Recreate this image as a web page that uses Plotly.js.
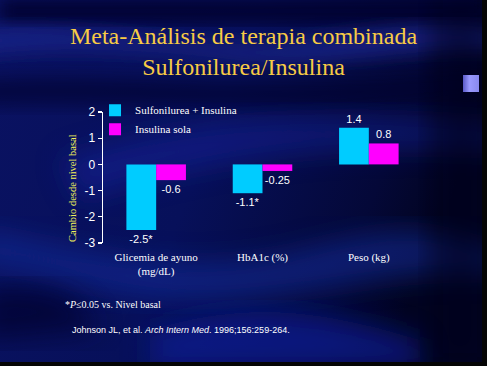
<!DOCTYPE html>
<html>
<head>
<meta charset="utf-8">
<script src="https://cdn.plot.ly/plotly-3.0.1.min.js"></script>
<style>
html,body{margin:0;padding:0;width:487px;height:366px;overflow:hidden;background:#050a4e;}
#bg{position:absolute;left:0;top:0;width:487px;height:366px;}
#chart{position:absolute;left:0;top:0;width:487px;height:366px;}
#rstrip{position:absolute;left:482px;top:0;width:5px;height:366px;background:#050505;}
#bstrip{position:absolute;left:0;top:362px;width:487px;height:4px;background:#050505;}
#sq{position:absolute;left:463px;top:75px;width:16px;height:17px;background:linear-gradient(to right,#5a5ac8,#9a9aff 40%,#8888ee);}
</style>
</head>
<body>
<svg id="bg" width="487" height="366" xmlns="http://www.w3.org/2000/svg">
  <defs>
    <linearGradient id="base" x1="0" y1="0" x2="1" y2="0.3">
      <stop offset="0" stop-color="#0a1262"/>
      <stop offset="0.5" stop-color="#07105a"/>
      <stop offset="0.85" stop-color="#040838"/>
      <stop offset="1" stop-color="#020420"/>
    </linearGradient>
    <filter id="blur" x="-20%" y="-20%" width="140%" height="140%"><feGaussianBlur stdDeviation="9"/></filter>
    <filter id="blur2" x="-20%" y="-20%" width="140%" height="140%"><feGaussianBlur stdDeviation="14"/></filter>
  </defs>
  <rect width="487" height="366" fill="url(#base)"/>
  <rect width="487" height="22" fill="#03052e" filter="url(#blur)"/>
  <path d="M-20,30 C100,20 200,55 300,40 S440,20 500,30 L500,50 C420,45 330,70 230,60 S60,45 -20,55 Z" fill="#1a2890" opacity="0.75" filter="url(#blur)"/>
  <path d="M-20,80 C120,70 250,95 500,70 L500,90 C300,120 150,100 -20,105 Z" fill="#02042a" opacity="0.6" filter="url(#blur)"/>
  <path d="M60,160 C180,120 300,110 500,125 L500,150 C320,140 200,160 80,200 Z" fill="#15239a" opacity="0.55" filter="url(#blur2)"/>
  <path d="M-20,230 C80,250 180,280 300,250 S420,230 500,250 L500,275 C400,265 300,300 200,300 S60,270 -20,265 Z" fill="#1830a8" opacity="0.5" filter="url(#blur2)"/>
  <path d="M-20,290 C60,280 80,300 100,330 L-20,340 Z" fill="#02042a" opacity="0.7" filter="url(#blur2)"/>
  <path d="M150,330 C250,300 320,310 420,340 L420,370 L150,370 Z" fill="#0b1a98" opacity="0.7" filter="url(#blur2)"/>
  <rect x="430" y="0" width="60" height="366" fill="#01021a" opacity="0.55" filter="url(#blur2)"/>
</svg>
<div id="chart"></div>
<div id="rstrip"></div>
<div id="bstrip"></div>
<div id="sq"></div>
<script>
var categories = ["Glicemia de ayuno<br>(mg/dL)", "HbA1c (%)", "Peso (kg)"];
var seriesNames = ["Sulfonilurea + Insulina", "Insulina sola"];
var sulfoInsulina = [-2.5, -1.1, 1.4];
var insulinaSola = [-0.6, -0.25, 0.8];
var sulfoLabels = ["-2.5*", "-1.1*", "1.4"];
var insulinaLabels = ["-0.6", "-0.25", "0.8"];
var yTickVals = [2, 1, 0, -1, -2, -3];
var yTickText = ["2", "1", "0", "-1", "-2", "-3"];

var serif = "Liberation Serif, serif";
var sans = "Liberation Sans, sans-serif";

var traces = [
  {type:"bar", name:seriesNames[0], x:categories, y:sulfoInsulina, text:sulfoLabels,
   textposition:"outside", cliponaxis:false, marker:{color:"#00CCFF"},
   textfont:{family:sans, size:11, color:"#FFFFFF"}, hoverinfo:"none"},
  {type:"bar", name:seriesNames[1], x:categories, y:insulinaSola, text:insulinaLabels,
   textposition:"outside", cliponaxis:false, marker:{color:"#FF00FF"},
   textfont:{family:sans, size:11, color:"#FFFFFF"}, hoverinfo:"none"}
];

var gold = "#F7CB45";
var layout = {
  width:487, height:366,
  margin:{l:103, r:65, t:112, b:123},
  paper_bgcolor:"rgba(0,0,0,0)", plot_bgcolor:"rgba(0,0,0,0)",
  barmode:"group", bargap:0.44, bargroupgap:0,
  title:{text:"Meta-Análisis de terapia combinada<br>Sulfonilurea/Insulina",
         font:{family:serif, size:24, color:gold},
         x:0.5, xref:"container", xanchor:"center", y:0.88, yref:"container", yanchor:"top"},
  showlegend:true,
  legend:{x:-0.025, xanchor:"left", y:1.125, yanchor:"top", bgcolor:"rgba(0,0,0,0)",
          font:{family:serif, size:11, color:"#FFFFFF"},
          tracegroupgap:0, itemclick:false},
  xaxis:{type:"category", showline:false, ticks:"", showgrid:false, zeroline:false,
         range:[-0.5, 2.5], ticklabelstandoff:6,
         tickfont:{family:serif, size:11, color:"#FFFFFF"}},
  xaxis2:{overlaying:"x", anchor:"free", position:0.6, side:"bottom", range:[-0.5, 2.5],
          tickvals:[0.5, 1.5, 2.5], ticks:"outside", ticklen:4, tickwidth:1.2, tickcolor:"#FFFFFF",
          showticklabels:false, showline:true, linecolor:"#FFFFFF", linewidth:1.5,
          showgrid:false, zeroline:false},
  yaxis:{range:[-3, 2], tickvals:yTickVals, ticktext:yTickText, ticks:"outside", ticklen:4,
         tickwidth:1.2, tickcolor:"#FFFFFF", showline:true, linecolor:"#FFFFFF", linewidth:1.5,
         showgrid:false, zeroline:false,
         tickfont:{family:sans, size:12, color:"#FFFFFF"}},
  annotations:[
    {text:"Cambio desde nivel basal", textangle:-90, xref:"paper", yref:"paper",
     x:-0.094, y:0.42, xanchor:"center", yanchor:"middle", showarrow:false,
     font:{family:serif, size:10.5, color:"#F2F25A"}},
    {text:"*<i>P</i>≤0.05 vs. Nivel basal", xref:"paper", yref:"paper",
     x:-0.125, y:-0.473, xanchor:"left", yanchor:"middle", showarrow:false,
     font:{family:serif, size:10, color:"#FFFFFF"}},
    {text:"Johnson JL, et al. <i>Arch Intern Med</i>. 1996;156:259-264.", xref:"paper", yref:"paper",
     x:-0.103, y:-0.664, xanchor:"left", yanchor:"middle", showarrow:false,
     font:{family:sans, size:9, color:"#FFFFFF"}}
  ]
};
Plotly.newPlot("chart", traces, layout, {staticPlot:true, displayModeBar:false});
</script>
</body>
</html>
